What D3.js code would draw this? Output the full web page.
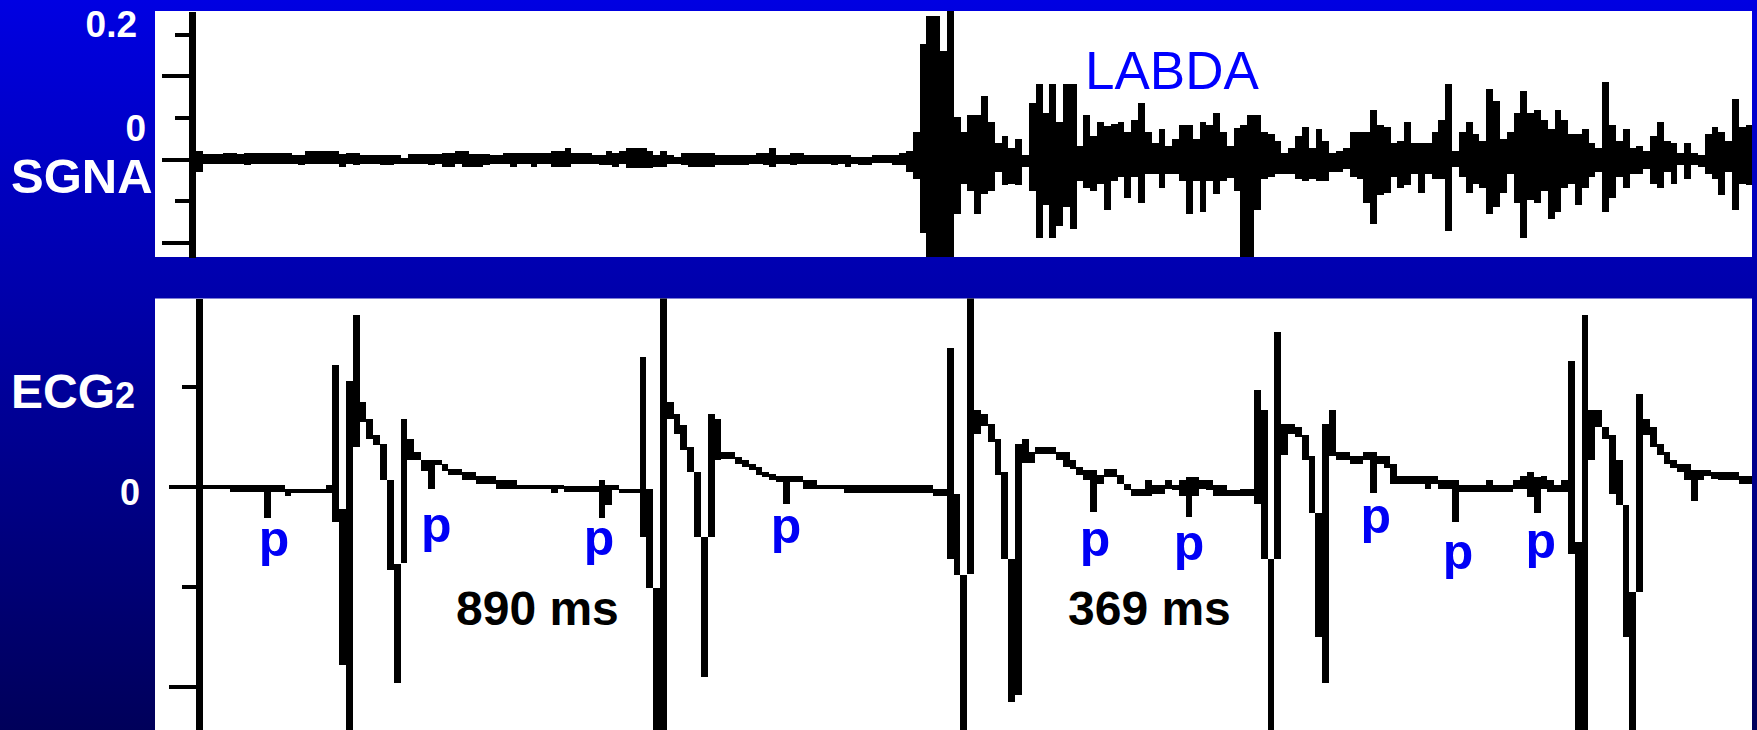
<!DOCTYPE html>
<html>
<head>
<meta charset="utf-8">
<script src="https://cdnjs.cloudflare.com/ajax/libs/d3/7.8.5/d3.min.js"></script>
<style>
    html, body { margin: 0; padding: 0; overflow: hidden; background: #000080; }
    svg { display: block; }
    text { font-family: "Liberation Sans", Arial, Helvetica, sans-serif; }
</style>
</head>
<body>
<div id="chart"></div>
<script>
// both traces are min/max envelopes, one bar per bin (time in ms)
const binWidth = 20.48;
const sgnaStart = -9;
const ecgStart = -9.6;

// SGNA envelope (uV), bin maxima and minima
const sgnaHi = [
    24, 14, 14, 14, 17, 17, 14, 17, 17, 17, 17, 17, 17, 17, 12, 12, 24, 24, 24, 24,
    24, 14, 17, 17, 12, 12, 12, 12, 12, 12, 4, 14, 14, 14, 14, 14, 19, 19, 24, 24,
    14, 14, 14, 12, 12, 17, 17, 17, 17, 17, 17, 17, 24, 24, 32, 17, 17, 17, 12, 12,
    24, 17, 24, 32, 32, 32, 24, 12, 24, 12, 7, 17, 17, 17, 17, 17,
    12, 12, 12, 12, 12, 12, 17, 17, 34, 12, 12, 17, 17, 12, 12, 12, 12, 12, 12, 12,
    7, 7, 7, 12, 12, 12, 12, 19, 24, 80, 344, 429, 429, 324, 460, 126, 80, 132, 132, 189,
    111, 49, 69, 34, 60, 12, 167, 226, 139, 226, 112, 226, 226, 39, 132, 69, 111, 99, 104, 111,
    82, 117, 167, 82, 49, 89, 39, 60, 102, 102, 60, 111, 102, 137, 82, 39,
    92, 102, 132, 132, 82, 75, 54, 19, 34, 69, 96, 34, 90, 54, 19, 24, 34, 82, 82, 82,
    147, 102, 96, 49, 54, 111, 49, 49, 49, 82, 117, 226, 24, 82, 111, 75, 54, 210, 174, 60,
    82, 139, 204, 139, 147, 117, 90, 147, 117, 75, 75, 90, 47, 34, 231, 102, 54, 90, 34, 39,
    24, 69, 111, 54, 47, 18, 47, 18, 12, 75, 96, 82, 54, 180, 96, 102
];
const sgnaLo = [
    -38, -14, -14, -14, -16, -16, -16, -18, -16, -16, -16, -16, -16, -16, -16, -18, -16, -16, -16, -16,
    -16, -24, -16, -18, -16, -16, -16, -18, -18, -16, -16, -16, -16, -16, -18, -16, -23, -23, -16, -23,
    -23, -23, -18, -16, -16, -16, -23, -16, -16, -23, -16, -16, -23, -23, -23, -16, -16, -16, -16, -18,
    -18, -23, -16, -28, -28, -28, -28, -23, -23, -16, -16, -18, -23, -23, -23, -23,
    -18, -18, -18, -18, -18, -14, -16, -18, -23, -16, -16, -18, -16, -16, -16, -16, -16, -18, -16, -23,
    -16, -18, -18, -11, -11, -11, -18, -18, -38, -59, -221, -300, -300, -300, -300, -164, -76, -96, -164, -106,
    -96, -38, -79, -74, -79, -24, -96, -236, -139, -236, -201, -144, -209, -66, -86, -96, -74, -152, -66, -54,
    -116, -54, -131, -46, -46, -86, -46, -46, -66, -164, -66, -159, -66, -106, -66, -56,
    -96, -300, -300, -152, -59, -54, -44, -44, -46, -61, -66, -61, -66, -66, -38, -38, -30, -53, -59, -132,
    -194, -108, -101, -54, -86, -79, -46, -101, -46, -59, -59, -216, -24, -53, -101, -76, -86, -164, -144, -101,
    -46, -132, -236, -123, -132, -96, -179, -159, -86, -76, -137, -86, -53, -38, -159, -116, -54, -86, -44, -44,
    -30, -74, -86, -38, -74, -18, -59, -18, -24, -44, -59, -108, -38, -152, -74, -79
];

// ECG2 envelope (uV), bin maxima and minima
const ecgHi = [
    4, 4, 4, 4, 4, 4, 4, 4, 4, 4, 4, 4, 4, -8, -8, -8, -8, -8, -8, 4,
    364, -66, 317, 514, 254, 204, 154, 129, 21, -231, 202, 142, 104, 79, 79, 79, 69, 54, 54, 44,
    44, 31, 31, 31, 19, 19, 19, 4, 4, 4, 4, 4, 4, 4, 1, 1, 1, 1, 1, 19,
    4, 4, -8, -8, -8, 389, -8, -304, 580, 254, 219, 184, 119, 44, -151, 219, 204, 104, 104, 89,
    79, 69, 59, 44, 39, 31, 31, 31, 31, 21, 21, 4, 4, 4, 4, 4, 4, 4, 4, 4,
    4, 4, 4, 4, 4, 4, 4, 4, -8, -8, 416, -21, -266, 580, 229, 217, 189, 142, 44, -216,
    129, 142, 104, 119, 119, 119, 104, 104, 79, 59, 49, 49, 34, 54, 54, 34, 9, -6, -6, 19,
    4, 4, 19, 4, 19, 29, 29, 19, 19, 4, 4, -9, -9, -8, -8, 289, 229, -216, 464, 189,
    189, 179, 154, 92, -79, 189, 229, 104, 104, 91, 91, 104, 104, 91, 91, 69, 31, 31, 31, 31,
    31, 31, 19, 19, 19, 4, 4, 4, 4, 19, 4, 4, 4, 19, 31, 44, 29, 31, 19, 4,
    19, 376, -166, 514, 229, 229, 179, 154, 79, -56, -316, 277, 202, 179, 129, 104, 79, 69, 69, 51,
    51, 51, 44, 44, 44, 44, 31, 31
];
const ecgLo = [
    -8, -8, -8, -8, -8, -16, -16, -16, -16, -16, -93, -16, -16, -29, -18, -18, -18, -18, -18, -18,
    -106, -536, -740, 119, 194, 144, 124, 21, -251, -588, -228, 79, 79, 47, -6, 64, 47, 34, 34, 21,
    21, 7, 7, 7, -6, -6, -6, -8, -8, -8, -8, -8, -18, -8, -16, -16, -16, -16, -16, -93,
    -56, -11, -18, -18, -18, -151, -304, -740, -740, 204, 159, 109, 44, -151, -571, -151, 79, 82, 82, 69,
    59, 49, 34, 29, 21, 14, -53, 14, 14, -6, -6, -8, -8, -8, -8, -18, -18, -18, -18, -18,
    -18, -18, -18, -18, -18, -18, -18, -18, -29, -29, -216, -266, -740, -263, 159, 181, 134, 34, -216, -646,
    -626, 72, 72, 97, 97, 97, 79, 59, 54, 34, 21, -76, 9, 29, 29, 9, -11, -28, -28, -28,
    -21, -21, -8, -11, -28, -91, -28, -8, -11, -28, -28, -29, -29, -29, -29, -53, -216, -740, -216, 94,
    159, 149, 79, -79, -451, -588, 92, 79, 79, 69, 69, 79, -19, 69, 57, 7, 7, 7, 7, 7,
    -6, 7, -6, -6, -106, -16, -16, -16, -16, -16, -16, -16, -16, -6, -6, -31, -79, -6, -16, -16,
    -16, -203, -740, -740, 81, 179, 144, -21, -56, -451, -740, -316, 154, 119, 94, 69, 57, 44, 19, -43,
    21, 31, 24, 21, 21, 21, 7, 7
];

// axis ticks
const sgnaMajorTicks = [250, 0, -250];
const sgnaMinorTicks = [375, 125, -125];
const ecgMajorTicks = [0, -600];
const ecgMinorTicks = [300, -300];

// annotations
const pLabelT = [225, 712, 1200, 1761, 2688, 2970, 3530, 3777, 4025];
const pLabelV = [-208, -166, -205, -169, -208, -220, -139, -247, -214];
const intervalLabels = ['890 ms', '369 ms'];
const intervalT = [771, 2607];
const intervalV = [-415, -415];
const eventLabel = 'LABDA';
const eventT = 2658;
const eventV = 209;

const width = 1757;
const height = 730;

const svg = d3.select('#chart')
    .append('svg')
    .attr('width', width)
    .attr('height', height);

const defs = svg.append('defs');
const grad = defs.append('linearGradient')
    .attr('id', 'bg')
    .attr('x1', 0).attr('y1', 0)
    .attr('x2', 0).attr('y2', 1);
grad.append('stop').attr('offset', '0%').attr('stop-color', '#0000e2');
grad.append('stop').attr('offset', '100%').attr('stop-color', '#00005a');

svg.append('rect')
    .attr('width', width)
    .attr('height', height)
    .attr('fill', 'url(#bg)');

// panels
const sgnaPanel = { left: 155, right: 1752, top: 11, bottom: 257 };
const ecgPanel = { left: 155, right: 1752, top: 298.5, bottom: 730 };

[['sgnaClip', sgnaPanel], ['ecgClip', ecgPanel]].forEach(([id, p]) => {
    svg.append('rect')
        .attr('x', p.left).attr('y', p.top)
        .attr('width', p.right - p.left)
        .attr('height', p.bottom - p.top)
        .attr('fill', '#fff');
    defs.append('clipPath').attr('id', id)
        .append('rect')
        .attr('x', p.left).attr('y', p.top)
        .attr('width', p.right - p.left)
        .attr('height', p.bottom - p.top);
});

// scales
const x = d3.scaleLinear()
    .domain([0, 4659])
    .range([199, 1752]);

const ySgna = d3.scaleLinear()
    .domain([-294, 444])
    .range([sgnaPanel.bottom, sgnaPanel.top]);

const yEcg = d3.scaleLinear()
    .domain([-730, 565])
    .range([ecgPanel.bottom, ecgPanel.top]);

// bins -> step points (last bin closed on its right edge)
const toBins = (start, hi, lo) => {
    const pts = hi.map((h, i) => ({ t: start + i * binWidth, hi: h, lo: lo[i] }));
    const last = pts[pts.length - 1];
    pts.push({ t: last.t + binWidth, hi: last.hi, lo: last.lo });
    return pts;
};

const envelope = (y) => d3.area()
    .curve(d3.curveStepAfter)
    .x(d => x(d.t))
    .y0(d => y(d.lo))
    .y1(d => y(d.hi));

svg.append('g')
    .attr('clip-path', 'url(#sgnaClip)')
    .append('path')
    .datum(toBins(sgnaStart, sgnaHi, sgnaLo))
    .attr('d', envelope(ySgna))
    .attr('fill', '#000')
    .attr('shape-rendering', 'crispEdges');

svg.append('g')
    .attr('clip-path', 'url(#ecgClip)')
    .append('path')
    .datum(toBins(ecgStart, ecgHi, ecgLo))
    .attr('d', envelope(yEcg))
    .attr('fill', '#000')
    .attr('shape-rendering', 'crispEdges');

// axes: thick spine, long major ticks, short minor ticks
const drawAxis = (y, xPos, major, minor) => {
    const g = svg.append('g').attr('transform', `translate(${xPos}, 0)`);
    g.call(d3.axisLeft(y).tickValues(major).tickSize(30).tickSizeOuter(0).tickFormat(''));
    g.append('g').call(d3.axisLeft(y).tickValues(minor).tickSize(17).tickSizeOuter(0).tickFormat(''))
        .select('.domain').remove();
    g.selectAll('.domain').attr('stroke', '#000').attr('stroke-width', 7);
    g.selectAll('.tick line').attr('stroke', '#000').attr('stroke-width', 4);
    g.selectAll('path, line').attr('shape-rendering', 'crispEdges');
};

drawAxis(ySgna, 192, sgnaMajorTicks, sgnaMinorTicks);
drawAxis(yEcg, 199, ecgMajorTicks, ecgMinorTicks);

// side labels
const side = svg.append('g')
    .attr('fill', '#fff')
    .attr('font-weight', 'bold');

side.append('text').attr('x', 137).attr('y', 37).attr('text-anchor', 'end')
    .attr('font-size', 37).text('0.2');
side.append('text').attr('x', 146).attr('y', 141).attr('text-anchor', 'end')
    .attr('font-size', 37).text('0');
side.append('text').attr('x', 11).attr('y', 193).attr('font-size', 49).text('SGNA');

const ecgTitle = side.append('text').attr('x', 11).attr('y', 408).attr('font-size', 48);
ecgTitle.append('tspan').text('ECG');
ecgTitle.append('tspan').attr('font-size', 36).text('2');

side.append('text').attr('x', 140).attr('y', 505).attr('text-anchor', 'end')
    .attr('font-size', 36).text('0');

// p waves
svg.append('g')
    .selectAll('text')
    .data(pLabelT)
    .enter()
    .append('text')
    .attr('x', d => x(d))
    .attr('y', (d, i) => yEcg(pLabelV[i]))
    .attr('text-anchor', 'middle')
    .attr('font-size', 50)
    .attr('font-weight', 'bold')
    .attr('fill', '#0000f5')
    .text('p');

// intervals
svg.append('g')
    .selectAll('text')
    .data(intervalLabels)
    .enter()
    .append('text')
    .attr('x', (d, i) => x(intervalT[i]))
    .attr('y', (d, i) => yEcg(intervalV[i]))
    .attr('font-size', 48)
    .attr('font-weight', 'bold')
    .attr('fill', '#000')
    .text(d => d);

svg.append('text')
    .attr('x', x(eventT))
    .attr('y', ySgna(eventV))
    .attr('font-size', 53)
    .attr('fill', '#0000ff')
    .text(eventLabel);
</script>
</body>
</html>
